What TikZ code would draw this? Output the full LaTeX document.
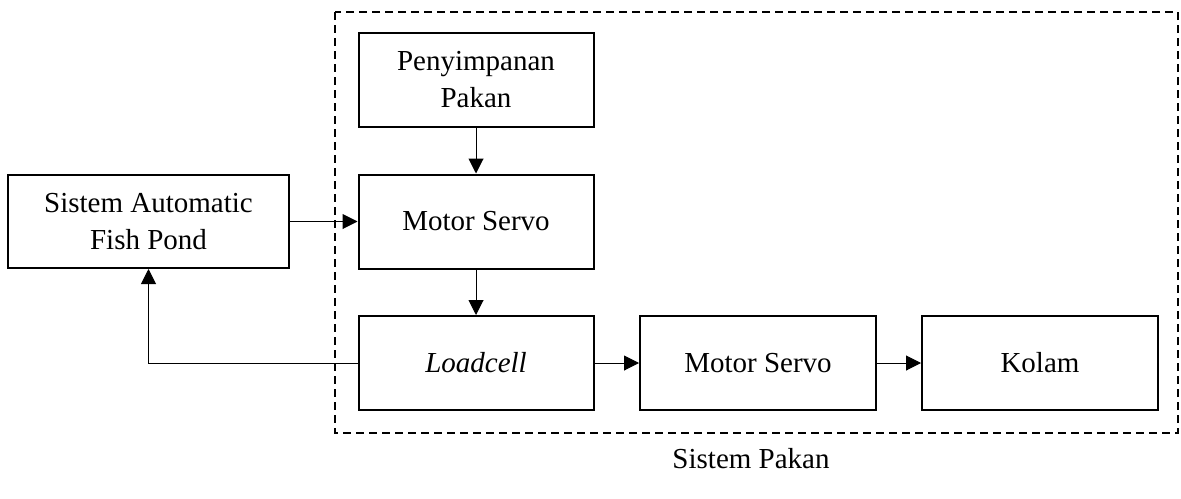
\documentclass[tikz,border=0pt]{standalone}
\usepackage{fontspec}
\setmainfont{Liberation Serif}
\usetikzlibrary{arrows.meta}

\begin{document}
\begin{tikzpicture}[line cap=butt,line join=miter,>={Triangle[length=7.5pt,width=7.5pt]},x=0.5pt,y=-0.5pt,
  blok/.style={draw,line width=1pt,minimum width=117.5pt,minimum height=47pt,inner sep=2pt,align=center,
    font=\fontsize{14.5}{18.5}\selectfont}]
\useasboundingbox (0,0) rectangle (1181,498);
% sistem pakan
\draw [line width=1pt,dash pattern=on 4pt off 2.5pt] (335,12) rectangle (1178,433);
\node (pakan) at (751,459) {\fontsize{14.5}{18.5}\selectfont Sistem Pakan};
\node [blok] (simpan) at (476,80) {Penyimpanan\\Pakan};
\node [blok] (servoA) at (476,221.5) {Motor Servo};
\node [blok] (loadcell) at (476,363) {\itshape Loadcell};
\node [blok,minimum width=118pt] (servoB) at (758,363) {Motor Servo};
\node [blok,minimum width=118pt] (kolam) at (1040,363) {Kolam};
\node [blok,minimum width=140.5pt,minimum height=46.5pt] (sistem) at (148.5,221.5) {Sistem Automatic\\Fish Pond};
% panah
\draw [->,line width=0.5pt] (simpan) -- (servoA);
\draw [->,line width=0.5pt] (servoA) -- (loadcell);
\draw [->,line width=0.5pt] (sistem) -- (servoA);
\draw [->,line width=0.5pt] (loadcell) -- (servoB);
\draw [->,line width=0.5pt] (servoB) -- (kolam);
\draw [->,line width=0.5pt] (loadcell.west) -| (sistem.south);
\end{tikzpicture}
\end{document}
